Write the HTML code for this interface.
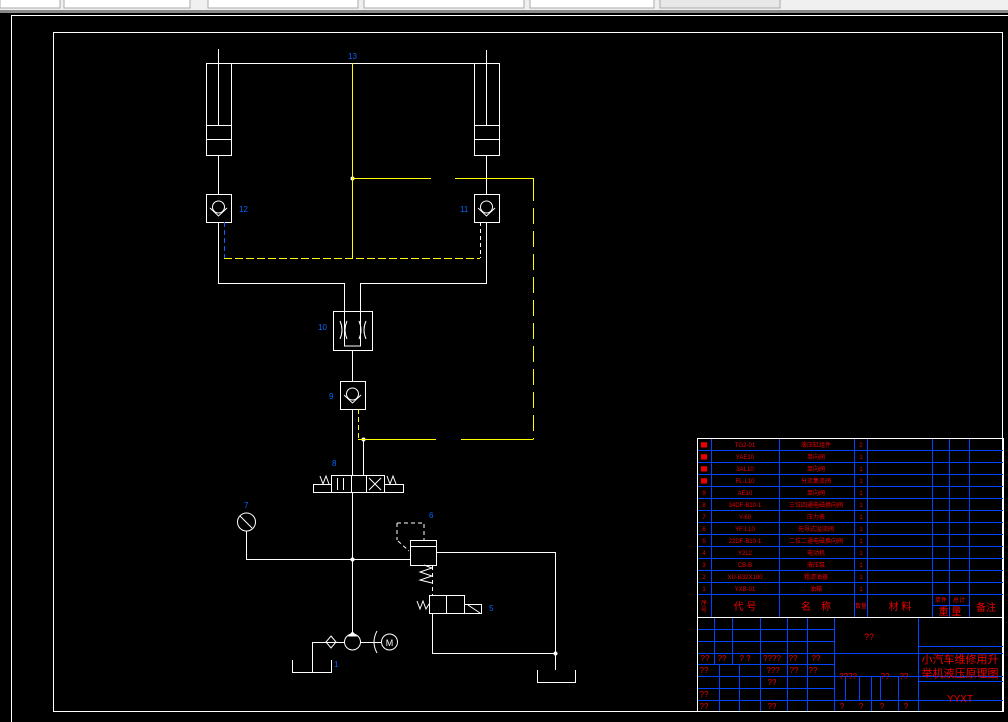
<!DOCTYPE html>
<html><head><style>
html,body{margin:0;padding:0;background:#000;width:1008px;height:722px;overflow:hidden}
svg{display:block}
text{font-family:"Liberation Sans","Noto Sans CJK SC",sans-serif}
</style></head><body>
<svg width="1008" height="722" viewBox="0 0 1008 722" xmlns="http://www.w3.org/2000/svg">
<rect x="0" y="0" width="1008" height="722" fill="#000"/>
<!-- toolbar -->
<rect x="0" y="0" width="1008" height="10" fill="#f0f0f0"/>
<rect x="0" y="10" width="1008" height="3" fill="#888"/>
<g fill="#fff" stroke="#aaa" stroke-width="1">
<rect x="0" y="-2" width="60" height="10"/><rect x="64" y="-2" width="126" height="10"/>
<rect x="208" y="-2" width="150" height="10"/><rect x="364" y="-2" width="160" height="10"/>
<rect x="530" y="-2" width="124" height="10"/><rect x="660" y="-2" width="120" height="10" fill="#e8e8e8"/>
</g>
<g fill="none" stroke="#fff" stroke-width="1">
<rect x="11.5" y="15.5" width="1000" height="714"/>
<rect x="53.5" y="32.5" width="949" height="679"/>
</g>
<!-- hydraulics white -->
<g fill="none" stroke="#fff" stroke-width="1">
<line x1="218.5" y1="49" x2="218.5" y2="125"/>
<line x1="486.5" y1="50" x2="486.5" y2="125"/>
<line x1="206" y1="63.5" x2="499" y2="63.5"/>
<rect x="206.5" y="63.5" width="25" height="92"/>
<rect x="474.5" y="63.5" width="25" height="92"/>
<line x1="206" y1="125.5" x2="231" y2="125.5"/><line x1="206" y1="139.5" x2="231" y2="139.5"/>
<line x1="474" y1="125.5" x2="499" y2="125.5"/><line x1="474" y1="139.5" x2="499" y2="139.5"/>
<line x1="218.5" y1="155" x2="218.5" y2="194"/>
<line x1="486.5" y1="155" x2="486.5" y2="194"/>
<rect x="206.5" y="194.5" width="25" height="28"/>
<rect x="474.5" y="194.5" width="25" height="28"/>
<circle cx="218.5" cy="207" r="6"/><polyline points="210,208 218.5,216 227,208"/>
<circle cx="486.5" cy="207" r="6"/><polyline points="478,208 486.5,216 495,208"/>
<polyline points="218.5,222 218.5,283.5 344.5,283.5 344.5,346 360.5,346 360.5,283.5 486.5,283.5 486.5,222"/>
<rect x="333.5" y="311.5" width="39" height="39"/>
<path d="M340,321 q4,9 0,18 M347,321 q-4,9 0,18 M359,321 q4,9 0,18 M366,321 q-4,9 0,18"/>
<line x1="352.5" y1="350" x2="352.5" y2="381"/>
<rect x="340.5" y="381.5" width="25" height="28"/>
<circle cx="352.5" cy="394" r="6"/><polyline points="344,395 352.5,403 361,395"/>
<line x1="352.5" y1="409" x2="352.5" y2="475"/>
<line x1="363.5" y1="439" x2="363.5" y2="475"/>
<rect x="331.5" y="475.5" width="53" height="17"/>
<line x1="351.5" y1="475" x2="351.5" y2="492"/><line x1="366.5" y1="475" x2="366.5" y2="492"/>
<line x1="369" y1="478" x2="381" y2="490"/><line x1="381" y1="478" x2="369" y2="490"/>
<rect x="313.5" y="484.5" width="18" height="8"/><rect x="384.5" y="484.5" width="19" height="8"/>
<polyline points="320,476 323,484 326,476 329,484"/><polyline points="387,476 390,484 393,476 396,484"/>
<line x1="337.5" y1="478" x2="337.5" y2="490"/><line x1="343.5" y1="478" x2="343.5" y2="490"/>
<line x1="352.5" y1="492" x2="352.5" y2="634"/>
<circle cx="246.5" cy="522" r="9"/><line x1="240" y1="516" x2="252" y2="528"/>
<polyline points="246.5,531 246.5,559.5 410,559.5"/>
<rect x="410.5" y="540.5" width="26" height="25"/><line x1="410" y1="546.5" x2="436" y2="546.5"/>
<polyline points="436,552.5 555.5,552.5 555.5,670"/>
<polyline points="424,565 432,568 420,572 432,576 420,580 432,583" />
<rect x="429.5" y="595.5" width="35" height="18"/><line x1="446.5" y1="595" x2="446.5" y2="613"/>
<rect x="464.5" y="604.5" width="17" height="9"/><line x1="468" y1="605" x2="480" y2="613"/>
<polyline points="417,601 420,609 423,601 426,609 429,604"/>
<polyline points="432.5,613 432.5,653.5 555.5,653.5"/>
<polyline points="537.5,670 537.5,682.5 575.5,682.5 575.5,670"/>
<circle cx="352.5" cy="642" r="8"/><polygon points="349,636 356,636 352.5,632" fill="#fff"/>
<line x1="312.5" y1="642.5" x2="344" y2="642.5"/><line x1="360" y1="642.5" x2="381" y2="642.5"/>
<polygon points="331,636 336,642 331,648 326,642"/>
<circle cx="389.5" cy="642" r="8"/>
<path d="M377,631 q-6,11 0,22"/>
<polyline points="312.5,642 312.5,672.5"/><polyline points="292.5,660 292.5,672.5 331.5,672.5 331.5,660"/>
</g>
<g fill="none" stroke="#fff" stroke-dasharray="4,3">
<polyline points="397,523 424,523 424,540"/><line x1="397" y1="523" x2="397" y2="540"/><line x1="398" y1="541" x2="409" y2="551"/>
<line x1="480.5" y1="222" x2="480.5" y2="258"/>
<line x1="432.5" y1="566" x2="432.5" y2="595"/>
</g>
<text x="389.5" y="646" font-size="9" fill="#fff" text-anchor="middle">M</text>
<g fill="#fff"><circle cx="352.5" cy="559.5" r="2"/><circle cx="555.5" cy="653.5" r="2"/><circle cx="363.5" cy="439.5" r="2"/><circle cx="352.5" cy="178.5" r="2"/></g>
<!-- yellow -->
<g fill="none" stroke="#ff0" stroke-width="1">
<line x1="352.5" y1="63" x2="352.5" y2="258"/>
<line x1="352" y1="178.5" x2="431" y2="178.5"/>
<polyline points="455,178.5 533.5,178.5 533.5,185"/>
<line x1="533.5" y1="185" x2="533.5" y2="439" stroke-dasharray="16,7"/>
<line x1="224" y1="258.5" x2="480" y2="258.5" stroke-dasharray="8,3"/>
<line x1="358.5" y1="409" x2="358.5" y2="439" stroke-dasharray="5,3"/>
<line x1="358" y1="439.5" x2="436" y2="439.5"/>
<line x1="461" y1="439.5" x2="533.5" y2="439.5"/>
</g>
<line x1="224.5" y1="222" x2="224.5" y2="258" stroke="#06f" stroke-dasharray="5,3"/>
<!-- labels -->
<g fill="#06f" font-size="8">
<text x="348" y="59">13</text><text x="239" y="212">12</text><text x="460" y="212">11</text>
<text x="318" y="330">10</text><text x="329" y="399">9</text><text x="332" y="466">8</text>
<text x="244" y="508">7</text><text x="429" y="518">6</text><text x="489" y="611">5</text><text x="334" y="667">1</text>
</g>
<!-- title block -->
<g stroke="#04f" stroke-width="1" fill="none">
<rect x="697.5" y="438.5" width="306" height="273"/>
<path d="M697,450.5H1003M697,462.5H1003M697,474.5H1003M697,486.5H1003M697,498.5H1003M697,510.5H1003M697,522.5H1003M697,534.5H1003M697,546.5H1003M697,558.5H1003M697,570.5H1003M697,582.5H1003M697,594.5H1003"/>
<path d="M711.5,438V617M779.5,438V617M854.5,438V617M867.5,438V617M932.5,438V617M949.5,438V617M969.5,438V617M932,605.5H969"/>
<path d="M697,629.5H834M697,641.5H834M697,653.5H1003M697,664.5H834M697,676.5H1003M697,688.5H834M697,700.5H1003"/>
<path d="M714.5,617V664M732.5,617V664M760.5,617V712M787.5,617V664M807.5,617V664M834.5,617V712M918.5,617V712M918,646.5H1003M918,681.5H1003"/>
<path d="M719.5,664V712M739.5,664V712M787.5,664V712M807.5,664V712M845.5,676V700M859.5,676V700M871.5,676V712M880.5,676V700M898.5,676V712"/>
</g>
<line x1="697" y1="617.5" x2="1003" y2="617.5" stroke="#fff"/>
<rect x="697.5" y="438.5" width="306" height="273" fill="none" stroke="#fff"/>
<g fill="#e00" font-size="6" text-anchor="middle">
<text x="704" y="447">▇</text><text x="745" y="447">TG2-01</text><text x="816" y="447">液压缸组件</text><text x="861" y="447">2</text>
<text x="704" y="459">▇</text><text x="745" y="459">YAE10</text><text x="816" y="459">单向阀</text><text x="861" y="459">1</text>
<text x="704" y="471">▇</text><text x="745" y="471">3AL10</text><text x="816" y="471">单向阀</text><text x="861" y="471">1</text>
<text x="704" y="483">▇</text><text x="745" y="483">FL-L10</text><text x="816" y="483">分流集流阀</text><text x="861" y="483">1</text>
<text x="704" y="495">9</text><text x="745" y="495">AE10</text><text x="816" y="495">单向阀</text><text x="861" y="495">1</text>
<text x="704" y="507">8</text><text x="745" y="507">34DF-B10-1</text><text x="816" y="507">三位四通电磁换向阀</text><text x="861" y="507">1</text>
<text x="704" y="519">7</text><text x="745" y="519">Y-60</text><text x="816" y="519">压力表</text><text x="861" y="519">1</text>
<text x="704" y="531">6</text><text x="745" y="531">YF-L10</text><text x="816" y="531">先导式溢流阀</text><text x="861" y="531">1</text>
<text x="704" y="543">5</text><text x="745" y="543">22DF-B10-1</text><text x="816" y="543">二位二通电磁换向阀</text><text x="861" y="543">1</text>
<text x="704" y="555">4</text><text x="745" y="555">Y2L2</text><text x="816" y="555">电动机</text><text x="861" y="555">1</text>
<text x="704" y="567">3</text><text x="745" y="567">CB-B</text><text x="816" y="567">液压泵</text><text x="861" y="567">1</text>
<text x="704" y="579">2</text><text x="745" y="579">XU-B32X100</text><text x="816" y="579">粗滤油器</text><text x="861" y="579">1</text>
<text x="704" y="591">1</text><text x="745" y="591">YXB-01</text><text x="816" y="591">油箱</text><text x="861" y="591">1</text>
</g>
<g fill="#e00" text-anchor="middle">
<text x="704" y="605" font-size="6">序</text><text x="704" y="612" font-size="6">号</text>
<text x="745" y="610" font-size="10">代 号</text><text x="816" y="610" font-size="10">名　称</text>
<text x="861" y="608" font-size="6">数量</text><text x="900" y="610" font-size="10">材 料</text>
<text x="941" y="602" font-size="6">单件</text><text x="959" y="602" font-size="6">总计</text>
<text x="950" y="615" font-size="10">重 量</text><text x="986" y="611" font-size="10">备注</text>
<text x="869" y="640" font-size="9">??</text>
<text x="960" y="663" font-size="11">小汽车维修用升</text><text x="960" y="677" font-size="11">举机液压原理图</text>
<text x="960" y="702" font-size="10">YYXT</text>
<g font-size="8"><text x="705" y="661">??</text><text x="722" y="661">??</text><text x="745" y="661">? ?</text><text x="772" y="661">????</text><text x="793" y="661">??</text><text x="816" y="661">??</text>
<text x="704" y="673">??</text><text x="773" y="673">???</text><text x="794" y="673">??</text><text x="813" y="673">??</text>
<text x="772" y="685">??</text><text x="704" y="697">??</text><text x="704" y="709">??</text><text x="772" y="709">??</text>
<text x="848" y="679">????</text><text x="885" y="679">??</text><text x="904" y="679">??</text>
<text x="842" y="709">?</text><text x="861" y="709">?</text><text x="882" y="709">?</text><text x="906" y="709">?</text></g>
</g>
</svg>
</body></html>
